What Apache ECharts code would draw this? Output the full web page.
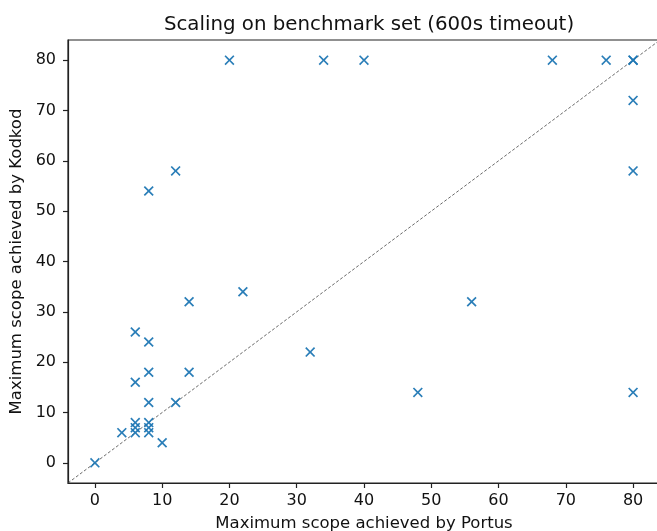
<!DOCTYPE html>
<html>
<head>
<meta charset="utf-8">
<script src="https://cdn.jsdelivr.net/npm/echarts@6/dist/echarts.min.js"></script>
<style>html,body{margin:0;padding:0;background:#fff;overflow:hidden;}#c{width:657px;height:531px;}</style>
</head>
<body>
<div id="c"></div>
<script>
const portus = [0, 4, 6, 6, 6, 8, 8, 8, 10, 8, 12, 6, 8, 14, 8, 6, 14, 22, 8, 12, 20, 34, 40, 68, 76, 80, 80, 80, 80, 80, 32, 56, 48];
const kodkod = [0, 6, 6, 7, 8, 6, 7, 8, 4, 12, 12, 16, 18, 18, 24, 26, 32, 34, 54, 58, 80, 80, 80, 80, 80, 80, 80, 72, 58, 14, 22, 32, 14];
const xTicks = [0, 10, 20, 30, 40, 50, 60, 70, 80];
const yTicks = [0, 10, 20, 30, 40, 50, 60, 70, 80];
const axisMin = -4, axisMax = 84;
const diag = [[axisMin, axisMin], [axisMax, axisMax]];

const pts = portus.map((p, i) => [p, kodkod[i]]);
const xPath = 'path://M0,12L12,0L50,38L88,0L100,12L62,50L100,88L88,100L50,62L12,100L0,88L38,50Z';
const font = 'DejaVu Sans';
const chart = echarts.init(document.getElementById('c'));
const axisCommon = {
  type: 'value', min: axisMin, max: axisMax,
  splitLine: { show: false },
  axisLine: { show: true, onZero: false, lineStyle: { color: '#222', width: 1.2 } },
  axisTick: { show: true, length: 5, lineStyle: { color: '#222', width: 1.2 } },
  nameLocation: 'middle',
  nameTextStyle: { fontFamily: font, fontSize: 16.5, color: '#111' }
};
chart.setOption({
  animation: false,
  title: {
    text: 'Scaling on benchmark set (600s timeout)',
    left: 364, top: 10, textAlign: 'center',
    textStyle: { fontFamily: font, fontSize: 19.8, fontWeight: 'normal', color: '#111' }
  },
  grid: { left: 68, width: 592, top: 40, bottom: 48, show: true, borderColor: '#222', borderWidth: 1.2, containLabel: false, outerBoundsMode: 'none' },
  xAxis: Object.assign({}, axisCommon, {
    name: 'Maximum scope achieved by Portus', nameGap: 32,
    axisTick: Object.assign({}, axisCommon.axisTick, { customValues: xTicks }),
    axisLabel: { customValues: xTicks, margin: 10, fontFamily: font, fontSize: 16, color: '#111' }
  }),
  yAxis: Object.assign({}, axisCommon, {
    name: 'Maximum scope achieved by Kodkod', nameGap: 43,
    axisTick: Object.assign({}, axisCommon.axisTick, { customValues: yTicks }),
    axisLabel: { customValues: yTicks, margin: 12, fontFamily: font, fontSize: 16, color: '#111' }
  }),
  series: [
    {
      type: 'line', data: diag, symbol: 'none', silent: true,
      lineStyle: { type: [3, 2], width: 0.8, color: '#444' }, z: 1
    },
    {
      type: 'scatter', data: pts, symbol: xPath, symbolSize: 10,
      itemStyle: { color: '#1f77b4', opacity: 0.95 }, z: 2
    }
  ]
});
</script>
</body>
</html>
